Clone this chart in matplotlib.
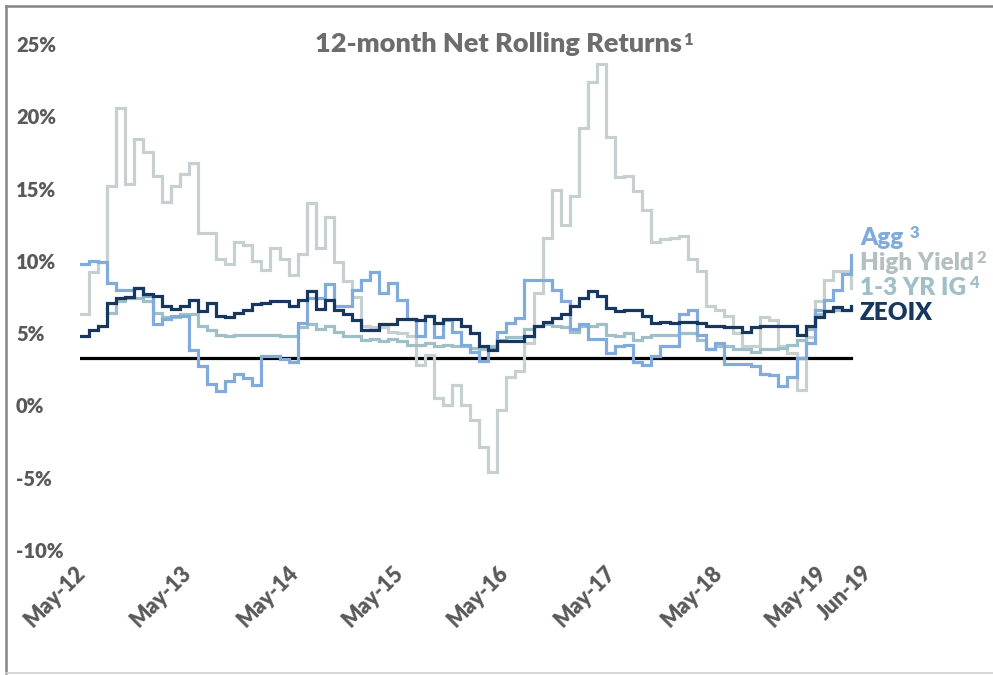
import numpy as np
import matplotlib
matplotlib.use("Agg")
import matplotlib.pyplot as plt
from matplotlib.lines import Line2D

# ---------------- data ----------------
x_labels = ['May-12', 'May-13', 'May-14', 'May-15', 'May-16', 'May-17', 'May-18', 'May-19', 'Jun-19']

agg = [9.8, 10.0, 9.9, 8.5, 8.0, 8.0, 8.1, 7.6, 5.6, 6.0,
       6.2, 6.2, 3.8, 2.7, 1.45, 1.0, 1.7, 2.2, 1.9, 1.4,
       3.4, 3.4, 3.2, 3.0, 5.7, 7.4, 7.4, 8.4, 6.9, 6.9,
       8.0, 8.7, 9.2, 7.8, 8.5, 7.3, 6.0, 4.8, 6.2, 4.7,
       5.9, 5.05, 4.2, 3.7, 3.1, 3.9, 5.05, 5.7, 6.05, 8.7,
       8.7, 8.7, 8.0, 7.2, 5.3, 5.6, 4.6, 4.6, 3.6, 4.1,
       4.2, 3.0, 2.8, 3.4, 4.1, 4.1, 6.3, 6.6, 4.9, 3.9,
       4.3, 2.9, 2.9, 2.9, 2.7, 2.2, 2.1, 1.35, 2.0, 3.3,
       4.3, 6.6, 7.3, 8.0, 9.1, 10.4]

high_yield = [6.3, 9.2, 9.9, 15.2, 20.6, 15.3, 18.4, 17.5, 15.9, 14.1,
              15.2, 16.0, 16.8, 11.9, 11.9, 10.1, 9.8, 11.3, 11.1, 10.0,
              9.4, 10.9, 10.1, 9.0, 10.5, 14.0, 10.9, 13.0, 9.9, 8.6,
              7.5, 5.5, 5.4, 5.4, 5.1, 5.0, 4.8, 2.8, 3.5, 0.5,
              0.0, 1.4, 0.0, -1.0, -2.9, -4.6, -0.3, 2.0, 2.4, 4.3,
              7.8, 11.6, 14.9, 12.5, 14.5, 19.2, 22.4, 23.6, 18.6, 15.8,
              15.9, 14.8, 13.5, 11.3, 11.5, 11.6, 11.7, 10.1, 9.3, 6.9,
              6.6, 6.2, 5.0, 4.1, 4.1, 6.1, 5.9, 4.1, 3.6, 1.1,
              4.7, 7.2, 8.7, 9.3, 9.3, 8.1]

ig_1_3yr = [np.nan, np.nan, np.nan, 6.4, 7.2, 7.4, 7.4, 7.2, 6.4, 6.1,
            6.1, 6.3, 6.3, 5.5, 5.2, 4.9, 4.8, 4.9, 4.9, 4.85,
            4.85, 4.9, 4.8, 4.8, 5.4, 5.6, 5.3, 5.5, 5.1, 4.8,
            4.8, 4.5, 4.6, 4.45, 4.6, 4.45, 4.2, 4.2, 4.35, 4.1,
            4.2, 4.1, 4.1, 4.0, 3.9, 4.1, 4.55, 4.7, 4.7, 5.3,
            5.5, 5.6, 5.5, 5.4, 5.1, 5.5, 5.5, 5.6, 4.9, 4.8,
            5.0, 4.55, 4.7, 4.9, 4.85, 4.9, 5.0, 5.0, 4.55, 3.9,
            4.1, 4.1, 3.9, 3.9, 3.7, 3.9, 3.9, 4.0, 4.2, 4.5,
            5.3, 6.3, 6.5, 6.6, 6.6, 6.6]

zeoix = [4.8, 5.2, 5.5, 7.1, 7.4, 7.5, 8.1, 7.7, 7.6, 6.9,
         6.7, 6.9, 7.3, 6.5, 7.1, 6.2, 6.1, 6.4, 6.6, 7.0,
         7.1, 7.2, 7.2, 6.9, 7.3, 7.9, 6.7, 7.3, 6.6, 6.3,
         5.9, 5.25, 5.25, 5.6, 5.6, 6.0, 6.0, 5.9, 6.2, 5.7,
         6.0, 6.0, 5.5, 5.0, 4.1, 3.8, 4.45, 4.45, 4.45, 4.8,
         5.5, 5.8, 6.05, 6.3, 6.85, 7.4, 7.9, 7.6, 6.75, 6.5,
         6.6, 6.6, 6.2, 5.7, 5.8, 5.7, 5.8, 5.8, 5.7, 5.5,
         5.5, 5.4, 5.4, 5.1, 5.4, 5.5, 5.5, 5.5, 5.5, 4.9,
         5.5, 6.1, 6.5, 6.8, 6.6, 6.9]

reference_level = 3.3
y_ticks = [-10, -5, 0, 5, 10, 15, 20, 25]

# ---------------- style ----------------
W, H = 993, 675
FONT = ['Lato', 'DejaVu Sans']
WEIGHT = 'heavy'
C_AGG = '#80abdc'
C_HY = '#c7d0d1'
C_IG = '#9fc0c7'
C_ZEO = '#17375e'
C_TXT = '#595959'

plt.rcParams['font.family'] = FONT
fig = plt.figure(figsize=(W / 100, H / 100), dpi=100)

# plot area in pixels: x 0 -> 80px, 9.07 px per month; y -10 -> 550px, 25 -> 44px
px_per_month = 9.07
x_max = 90
ax_left, ax_right = 80, 80 + x_max * px_per_month
ax_top, ax_bottom = 44, 550
ax = fig.add_axes([ax_left / W, 1 - ax_bottom / H, (ax_right - ax_left) / W, (ax_bottom - ax_top) / H])

n = len(zeoix)
x = np.arange(n)
lw = 2.3
ax.axhline(reference_level, xmin=0, xmax=(n - 1) / x_max, color='black', lw=2.3, zorder=1)
ax.step(x, high_yield, where='post', color=C_HY, lw=lw, zorder=2, solid_joinstyle='miter')
ax.step(x, ig_1_3yr, where='post', color=C_IG, lw=lw, zorder=3, solid_joinstyle='miter')
ax.step(x, agg, where='post', color=C_AGG, lw=lw, zorder=4, solid_joinstyle='miter')
ax.step(x, zeoix, where='post', color=C_ZEO, lw=lw, zorder=5, solid_joinstyle='miter')

ax.set_xlim(0, x_max)
ax.set_ylim(-10, 25)
for s in ax.spines.values():
    s.set_visible(False)

ax.set_yticks(y_ticks)
ax.set_yticklabels([f'{v}%' for v in y_ticks])
ax.tick_params(axis='y', length=0, pad=46, labelsize=14.5, labelcolor=C_TXT)
for lab in ax.get_yticklabels():
    lab.set_horizontalalignment('left')
    lab.set_fontweight(WEIGHT)

x_tick_pos = [0.2, 11.9, 23.7, 35.3, 46.9, 58.7, 70.4, 81.9, 86.9]
ax.set_xticks(x_tick_pos)
ax.set_xticklabels(x_labels, rotation=45, ha='right', va='center', rotation_mode='anchor')
ax.tick_params(axis='x', length=0, pad=14, labelsize=15.5, labelcolor=C_TXT)
for lab in ax.get_xticklabels():
    lab.set_fontweight(WEIGHT)

# title
title_color = '#6d6d6d'
t = fig.text(499 / W, 1 - 44 / H, '12-month Net Rolling Returns', ha='center', va='center',
             fontsize=19.5, fontweight=WEIGHT, color=title_color)

fig.canvas.draw()
r = fig.canvas.get_renderer()


def add_sup(txt, sup, size, color, gap=2, raise_px=0):
    bb = txt.get_window_extent(renderer=r)
    fig.text((bb.x1 + gap) / W, (bb.y1 + raise_px) / H, sup, ha='left', va='top',
             fontsize=size, fontweight=WEIGHT, color=color)


add_sup(t, '1', 12, title_color, gap=1, raise_px=0)

# series labels
labels = [('Agg', '3', C_AGG, 238, 6), ('High Yield', '2', '#b3bfc1', 263, 3),
          ('1-3 YR IG', '4', C_IG, 288, 3), ('ZEOIX', None, C_ZEO, 313, 0)]
for main, sup, col, ypx, gap in labels:
    tt = fig.text(860 / W, 1 - ypx / H, main, ha='left', va='center', fontsize=17.5,
                  fontweight=WEIGHT, color=col)
    if sup:
        fig.canvas.draw()
        add_sup(tt, sup, 12, col, gap=gap, raise_px=2)

# border
fig.add_artist(Line2D([6 / W, 1], [1 - 6 / H, 1 - 6 / H], color='#858585', lw=1.8, transform=fig.transFigure))
fig.add_artist(Line2D([6 / W, 6 / W], [1 - 6 / H, 1 - 673 / H], color='#858585', lw=1.8, transform=fig.transFigure))
fig.add_artist(Line2D([6 / W, 1], [1 - 673 / H, 1 - 673 / H], color='#d0d0d0', lw=1.2, transform=fig.transFigure))

fig.savefig('out.png', dpi=100)
